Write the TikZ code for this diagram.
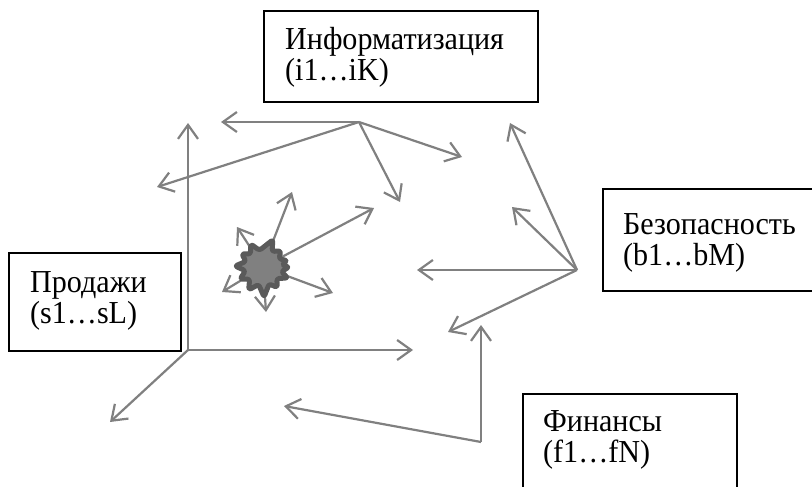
\documentclass[tikz,border=0pt]{standalone}
\usepackage{fontspec}
\setmainfont{Liberation Serif}
\usetikzlibrary{arrows.meta}
\definecolor{arr}{HTML}{808080}
\definecolor{stard}{HTML}{5A5A5A}
\definecolor{starf}{HTML}{808080}
\begin{document}
\begin{tikzpicture}[x=1pt,y=-1pt,
  vec/.style={draw=arr,line width=2.2pt,-{Straight Barb[length=14pt,width=20pt,line width=2.2pt]}},
  box/.style={draw=black,line width=1.2pt,fill=white,inner sep=0pt},
  lbl/.style={anchor=base west,inner sep=0pt,font=\fontsize{32}{31}\selectfont,align=left,transform shape}]
\useasboundingbox (0,0) rectangle (812,487);
\fill[white] (0,0) rectangle (812,487);
% boxes
\node[box,minimum width=274pt,minimum height=91pt] (info) at (401,56.5) {};
\node[box,minimum width=212pt,minimum height=102pt] (bez) at (709,240) {};
\node[box,minimum width=172pt,minimum height=98pt] (prod) at (95,302) {};
\node[box,minimum width=214pt,minimum height=100pt] (fin) at (630,444) {};
\begin{scope}[shift={(285,81)},xscale=0.94]
\node[lbl] (infot) at (0,0) {Информатизация\\(i1…iK)};
\end{scope}
\begin{scope}[shift={(623,265)},xscale=0.94]
\node[lbl] (bezt) at (0,0) {Безопасность\\(b1…bM)};
\end{scope}
\begin{scope}[shift={(30,323)},xscale=0.94]
\node[lbl] (prodt) at (0,0) {Продажи\\(s1…sL)};
\end{scope}
\begin{scope}[shift={(543,462)},xscale=0.94]
\node[lbl] (fint) at (0,0) {Финансы\\(f1…fN)};
\end{scope}
% hubs
\coordinate (hi) at (359,122);
\coordinate (hb) at (577,270);
\coordinate (hf) at (481,442);
\coordinate (hs) at (188,350);
\coordinate (hx) at (263,267);
% tips
\coordinate (i1) at (221,122);
\coordinate (i2) at (157,187);
\coordinate (i3) at (462,157);
\coordinate (i4) at (400,202);
\coordinate (b1) at (510,123);
\coordinate (b2) at (512,207);
\coordinate (b3) at (417,270);
\coordinate (b4) at (448,332);
\coordinate (f1) at (481,325);
\coordinate (f2) at (284,406);
\coordinate (s1) at (188,123);
\coordinate (s2) at (413,350);
\coordinate (s3) at (110,422);
\coordinate (x1) at (292,192);
\coordinate (x2) at (374,208);
\coordinate (x3) at (237,227);
\coordinate (x4) at (222,292);
\coordinate (x5) at (266,312);
\coordinate (x6) at (333,293);
% arrows
\foreach \t in {i1,i2,i3,i4} \draw[vec] (hi) -- (\t);
\foreach \t in {b1,b2,b3,b4} \draw[vec] (hb) -- (\t);
\foreach \t in {f1,f2} \draw[vec] (hf) -- (\t);
\foreach \t in {s1,s2,s3} \draw[vec] (hs) -- (\t);
\foreach \t in {x1,x2,x3,x4,x5,x6} \draw[vec] (hx) -- (\t);
% explosion
\draw[shift={(263,267)},draw=stard,fill=starf,line width=5pt,rounded corners=2.5pt,line join=round]
  (0:26) -- (14:19) -- (24:27) -- (40:18) -- (55:25) -- (70:18) -- (88:30) -- (104:18)
  -- (122:27) -- (138:18) -- (152:26) -- (168:18) -- (182:28) -- (198:18) -- (212:25)
  -- (226:18) -- (242:26) -- (258:17) -- (290:29) -- (300:18) -- (318:24) -- (333:18)
  -- (345:25) -- (354:19) -- cycle;
\end{tikzpicture}
\end{document}
